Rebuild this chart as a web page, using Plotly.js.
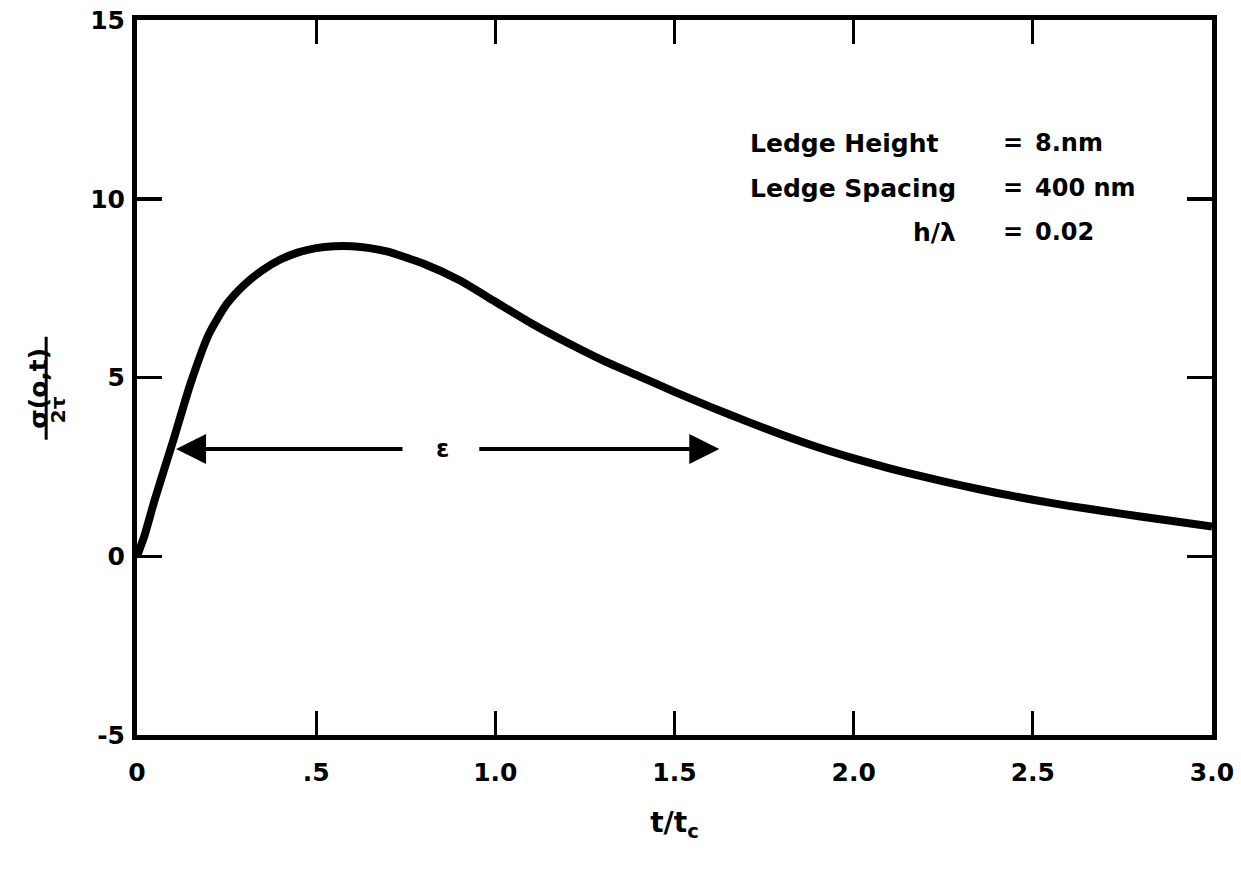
<!DOCTYPE html>
<html>
<head>
<meta charset="utf-8">
<script src="https://cdn.plot.ly/plotly-3.0.1.min.js"></script>
<style>html,body{margin:0;padding:0;background:#fff;}#chart{width:1241px;height:881px;}</style>
</head>
<body>
<div id="chart"></div>
<script>
// Curve: sigma(o,t)/2tau versus t/tc
const tRatio = [0, 0.02, 0.05, 0.1, 0.15, 0.2, 0.25, 0.3, 0.35, 0.4, 0.45, 0.5, 0.55, 0.6, 0.65, 0.7, 0.8, 0.9, 1.0, 1.1, 1.2, 1.3, 1.4, 1.5, 1.6, 1.7, 1.8, 1.9, 2.0, 2.1, 2.2, 2.3, 2.4, 2.5, 2.6, 2.7, 2.8, 2.9, 3.0];
const sigma  = [0, 0.55, 1.6, 3.2, 4.85, 6.2, 7.05, 7.6, 8.0, 8.3, 8.5, 8.62, 8.67, 8.67, 8.62, 8.52, 8.18, 7.72, 7.12, 6.52, 5.98, 5.48, 5.04, 4.6, 4.18, 3.78, 3.4, 3.05, 2.74, 2.46, 2.21, 1.98, 1.77, 1.58, 1.41, 1.26, 1.11, 0.97, 0.83];

const xTickVals = [0, 0.5, 1.0, 1.5, 2.0, 2.5, 3.0];
const xTickText = ["0", ".5", "1.0", "1.5", "2.0", "2.5", "3.0"];
const yTickVals = [-5, 0, 5, 10, 15];
const yTickText = ["-5", "0", "5", "10", "15"];

// Interval marker (epsilon) on the curve
const epsLevel = 3.0;
const epsStart = 0.109;
const epsEnd = 1.625;
const epsGapLeft = 0.745;
const epsGapRight = 0.951;
const epsLabelX = 0.853;

// Parameter box
const paramNames = ["Ledge Height", "Ledge Spacing", "h/λ"];
const paramValues = ["8.nm", "400 nm", "0.02"];
const paramY = [11.55, 10.29, 9.06];

const FONT = "DejaVu Sans, Liberation Sans, sans-serif";

const annotations = [];
// epsilon arrows
annotations.push({x: epsStart, y: epsLevel, ax: epsGapLeft, ay: epsLevel, xref: 'x', yref: 'y', axref: 'x', ayref: 'y',
  text: '', showarrow: true, arrowhead: 2, arrowsize: 1.5, arrowwidth: 4, arrowcolor: '#000', standoff: 0, startstandoff: 0});
annotations.push({x: epsEnd, y: epsLevel, ax: epsGapRight, ay: epsLevel, xref: 'x', yref: 'y', axref: 'x', ayref: 'y',
  text: '', showarrow: true, arrowhead: 2, arrowsize: 1.5, arrowwidth: 4, arrowcolor: '#000', standoff: 0, startstandoff: 0});
annotations.push({x: epsLabelX, y: epsLevel, xref: 'x', yref: 'y', text: '<b>ε</b>', showarrow: false,
  font: {family: FONT, size: 24, color: '#000'}});

// parameter text
const nameX = [1.706, 1.706, 2.292];
const nameAnchor = ['left', 'left', 'right'];
for (let i = 0; i < paramNames.length; i++) {
  annotations.push({x: nameX[i], y: paramY[i], xref: 'x', yref: 'y', text: '<b>' + paramNames[i] + '</b>', showarrow: false,
    xanchor: nameAnchor[i], font: {family: FONT, size: 25, color: '#000'}});
  annotations.push({x: 2.445, y: paramY[i], xref: 'x', yref: 'y', text: '<b>=</b>', showarrow: false,
    xanchor: 'center', font: {family: FONT, size: 24, color: '#000'}});
  annotations.push({x: 2.50, y: paramY[i], xref: 'x', yref: 'y', text: '<b>' + paramValues[i] + '</b>', showarrow: false,
    xanchor: 'left', font: {family: FONT, size: 24, color: '#000'}});
}

// y-axis title as a fraction
annotations.push({x: -0.107, y: 0.485, xref: 'paper', yref: 'paper', text: '<b>σ(o,t)</b>', showarrow: false,
  textangle: -90, font: {family: FONT, size: 25, color: '#000'}});
annotations.push({x: -0.087, y: 0.455, xref: 'paper', yref: 'paper', text: '<b>2τ</b>', showarrow: false,
  textangle: -90, font: {family: FONT, size: 20, color: '#000'}});

const shapes = [{type: 'line', xref: 'paper', yref: 'paper', x0: -0.0845, x1: -0.0845, y0: 0.413, y1: 0.557,
  line: {color: '#000', width: 3}}];

const trace = {x: tRatio, y: sigma, type: 'scatter', mode: 'lines', line: {color: '#000', width: 8, shape: 'spline', smoothing: 0.6},
  hoverinfo: 'skip', showlegend: false};

const layout = {
  width: 1241, height: 881,
  margin: {l: 137, r: 29, t: 20, b: 146},
  paper_bgcolor: '#fff', plot_bgcolor: '#fff',
  showlegend: false,
  font: {family: FONT, color: '#000'},
  xaxis: {range: [0, 3], tickvals: xTickVals, ticktext: xTickText, ticks: 'inside', ticklen: 24, tickwidth: 3, tickcolor: '#000',
    showline: true, linewidth: 5, linecolor: '#000', mirror: 'allticks', showgrid: false, zeroline: false,
    tickfont: {family: FONT, size: 25, color: '#000', weight: 'bold'}, ticklabelstandoff: 11,
    title: {text: '<b>t/t<sub>c</sub></b>', font: {family: FONT, size: 28, color: '#000'}, standoff: 28}},
  yaxis: {range: [-5, 15], tickvals: yTickVals, ticktext: yTickText, ticks: 'inside', ticklen: 25, tickwidth: 3.5, tickcolor: '#000',
    showline: true, linewidth: 5, linecolor: '#000', mirror: 'allticks', showgrid: false, zeroline: false,
    tickfont: {family: FONT, size: 25, color: '#000', weight: 'bold'}, ticklabelstandoff: 2},
  annotations: annotations,
  shapes: shapes
};

Plotly.newPlot('chart', [trace], layout, {staticPlot: true, displayModeBar: false});
</script>
</body>
</html>
